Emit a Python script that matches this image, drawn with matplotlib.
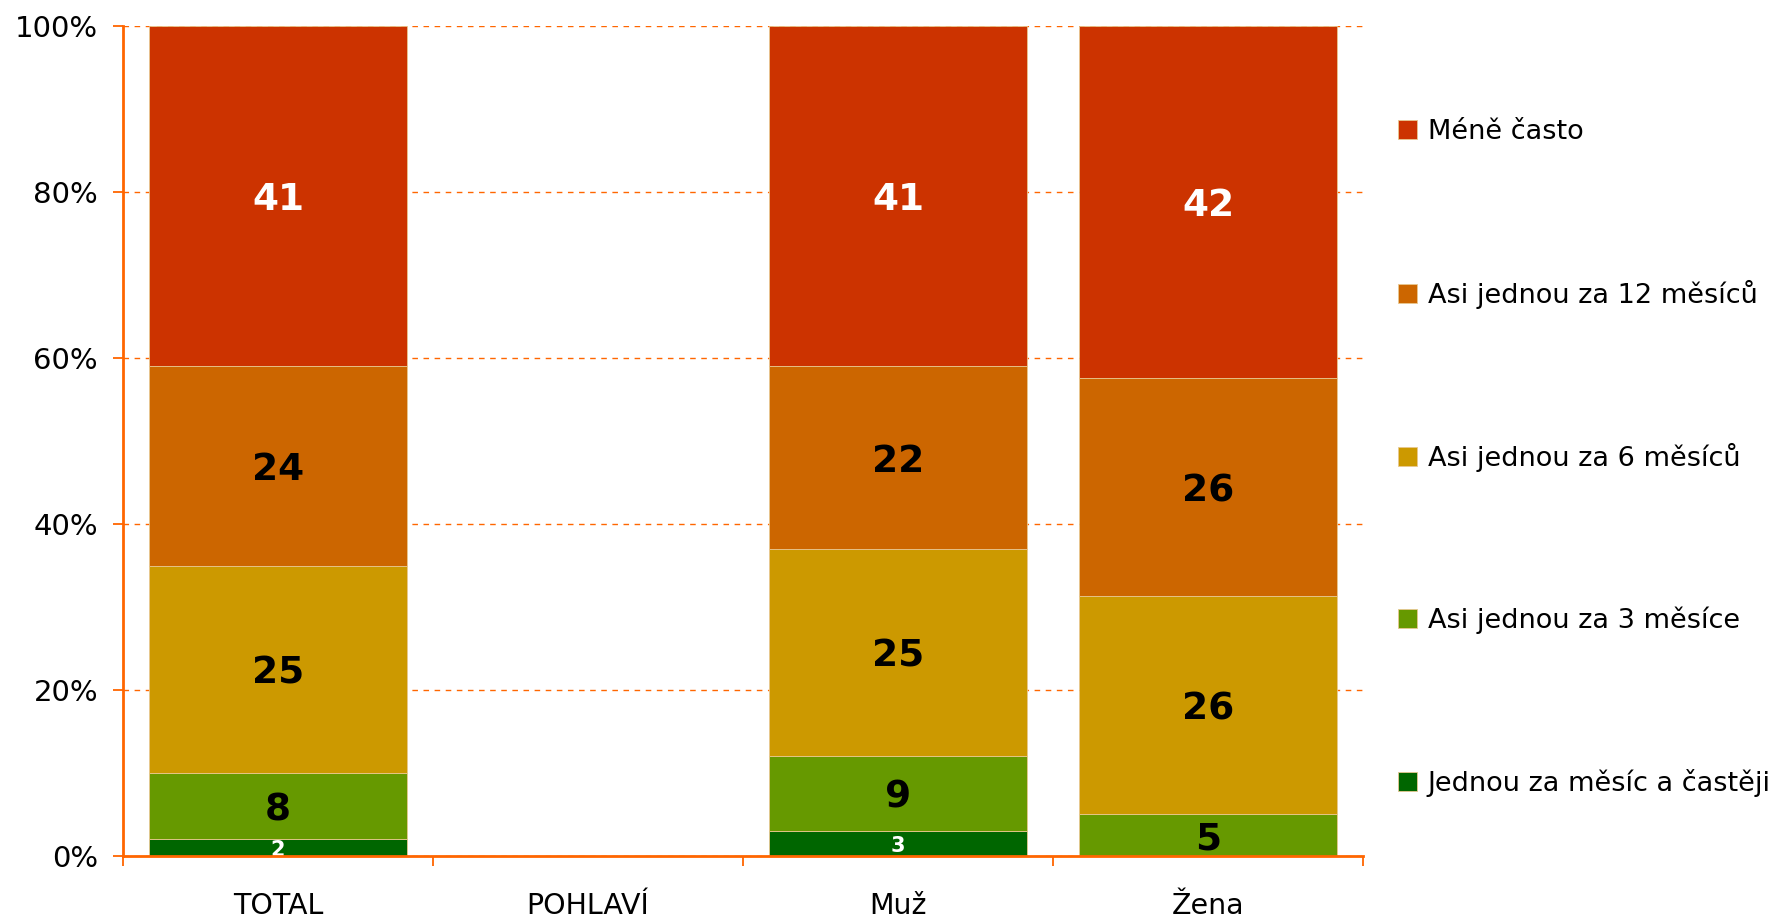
import matplotlib
matplotlib.use("Agg")
import matplotlib.pyplot as plt
import numpy as np

categories = ["TOTAL", "POHLAVÍ", "Muž", "Žena"]
series_names = ["Jednou za měsíc a častěji", "Asi jednou za 3 měsíce",
                "Asi jednou za 6 měsíců", "Asi jednou za 12 měsíců", "Méně často"]
jednou_mesic = [2, 0, 3, 0]
za_3_mesice = [8, 0, 9, 5]
za_6_mesicu = [25, 0, 25, 26]
za_12_mesicu = [24, 0, 22, 26]
mene_casto = [41, 0, 41, 42]
colors = ["#006600", "#669900", "#CC9900", "#CC6600", "#CC3300"]
label_colors = ["white", "black", "black", "black", "white"]
label_sizes = [15, 27, 27, 27, 27]
y_ticks = [0, 20, 40, 60, 80, 100]

plt.rcParams['font.family'] = ['DejaVu Sans']

series = np.array([jednou_mesic, za_3_mesice, za_6_mesicu, za_12_mesicu, mene_casto], dtype=float)
totals = series.sum(axis=0)
pct = np.where(totals > 0, series / np.where(totals > 0, totals, 1) * 100, 0)

fig = plt.figure(figsize=(17.8, 9.22), dpi=100)
ax = fig.add_axes([123/1780, 1-856/922, (1363-123)/1780, (856-26)/922])

x = np.arange(len(categories)) + 0.5
bottom = np.zeros(len(categories))
handles = []
for i, name in enumerate(series_names):
    h = ax.bar(x, pct[i], bottom=bottom, width=0.835, color=colors[i],
               edgecolor="#e8c890", linewidth=0.6, label=name, zorder=2)
    handles.append(h)
    for j in range(len(categories)):
        if series[i, j] > 0:
            ax.text(x[j], bottom[j] + pct[i, j] / 2, f"{int(series[i, j])}",
                    ha="center", va="center_baseline", fontsize=label_sizes[i],
                    fontweight="bold", color=label_colors[i], zorder=3)
    bottom += pct[i]

ax.set_xlim(0, 4)
ax.set_ylim(0, 100)
ax.set_yticks(y_ticks)
ax.set_yticklabels([f"{t}%" for t in y_ticks])
ax.yaxis.grid(True, color="#FF6600", linestyle=(0, (4, 4)), linewidth=1.0, zorder=1)
ax.set_axisbelow(True)

ax.set_xticks([0, 1, 2, 3, 4])
ax.set_xticklabels([])
ax.set_xticks(x, minor=True)
ax.set_xticklabels(categories, minor=True)
ax.tick_params(axis="x", which="major", direction="out", length=7, width=1.3, color="#FF6600")
ax.tick_params(axis="x", which="minor", length=0, pad=26, labelsize=20.5)
ax.tick_params(axis="y", direction="out", length=7, width=1.3, color="#FF6600",
               labelsize=21, pad=11)

for s in ["top", "right"]:
    ax.spines[s].set_visible(False)
for s in ["left", "bottom"]:
    ax.spines[s].set_color("#FF6600")
    ax.spines[s].set_linewidth(2)
    ax.spines[s].set_zorder(4)

leg = fig.legend(handles[::-1], series_names[::-1], loc="center left",
                 bbox_to_anchor=(1398/1780, 1-458/922), frameon=False,
                 fontsize=19.5, labelspacing=4.97, handlelength=0.7, handleheight=0.7,
                 handletextpad=0.4, borderpad=0, borderaxespad=0)

fig.savefig("out.png", dpi=100)
